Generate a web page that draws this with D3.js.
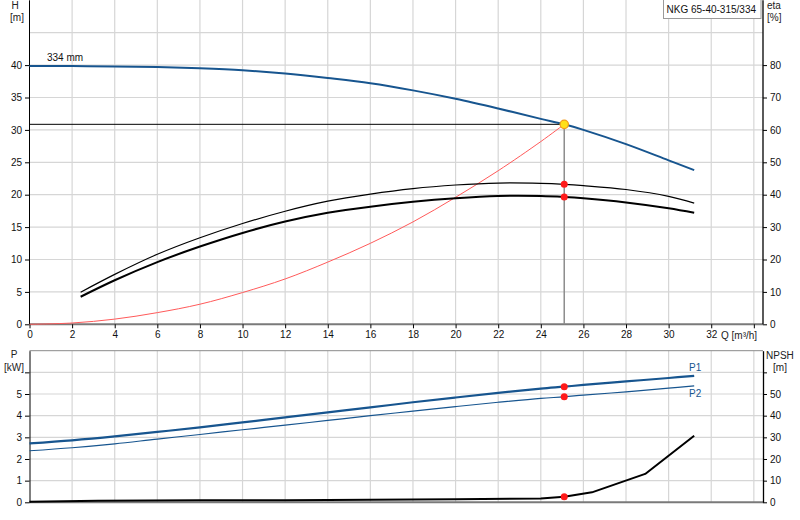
<!DOCTYPE html>
<html lang="en">
  <head>
    <meta charset="utf-8">
    <title>NKG 65-40-315/334</title>
    <script src="https://d3js.org/d3.v7.min.js"></script>
    <style>
     body { margin: 0; background: white; }
     svg { font-family: "Liberation Sans", Arial, sans-serif; font-size: 10px; }
     .grid line { stroke: #d6d6d6; stroke-width: 1.2px; }
     .axis text { fill: #111; font-size: 10px; }
     .axis line { stroke: #000; }
     .axis path { stroke: #000; }
     .lbl { fill: #222; font-size: 10px; }
    </style>
  </head>
  <body>
  <div id="chart"></div>
  <script>

  // ---- data ----
  // head curve (Q in m3/h, H in m)
  const qHead = [0, 2, 4, 6, 8, 10, 12, 14, 16, 18, 20, 22, 24, 25.1, 26, 28, 30, 31.2];
  const head  = [39.85, 39.85, 39.8, 39.7, 39.5, 39.2, 38.7, 38.0, 37.2, 36.1, 34.8, 33.3, 31.7, 30.86, 30.0, 27.8, 25.3, 23.8];

  // system curve (thin red)
  const qSys    = [0, 2, 4, 6, 8, 10, 12, 14, 16, 18, 20, 22, 24, 25.1];
  const sysHead = [0, 0.2, 0.8, 1.8, 3.1, 4.9, 7.0, 9.6, 12.5, 15.8, 19.6, 23.7, 28.2, 30.86];

  // efficiency curves [%]
  const qEta     = [2.4, 4, 6, 8, 10, 12, 14, 16, 18, 20, 22, 24, 25.1, 26, 28, 30, 31.2];
  const etaPump  = [9.9, 15.4, 21.6, 26.7, 31.1, 34.9, 38.0, 40.2, 41.9, 43.0, 43.6, 43.5, 43.2, 42.8, 41.6, 39.5, 37.4];
  const etaTotal = [8.5, 13.6, 19.2, 24.0, 28.2, 31.7, 34.4, 36.3, 37.8, 38.9, 39.6, 39.6, 39.3, 38.9, 37.6, 35.8, 34.4];

  // power curves [kW]
  const qPow = [0, 2, 4, 6, 8, 10, 12, 14, 16, 18, 20, 22, 24, 25.1, 26, 28, 30, 31.2];
  const p1   = [2.72, 2.86, 3.04, 3.25, 3.46, 3.69, 3.92, 4.15, 4.38, 4.62, 4.84, 5.05, 5.25, 5.34, 5.42, 5.58, 5.74, 5.84];
  const p2   = [2.38, 2.52, 2.70, 2.92, 3.13, 3.35, 3.56, 3.78, 4.00, 4.21, 4.42, 4.62, 4.80, 4.87, 4.95, 5.10, 5.27, 5.38];

  // NPSH [m]
  const qNpsh = [0, 3.2, 8, 12, 16, 20, 24, 25.1, 26.4, 28.9, 31.2];
  const npsh  = [0.2, 0.7, 0.9, 1.0, 1.2, 1.4, 1.8, 2.6, 4.6, 13.1, 30.7];

  // duty point
  const dutyQ = 25.1, dutyH = 30.86;
  const dutyEta = [43.2, 39.3];
  const dutyP = [5.34, 4.87];
  const dutyNpsh = 2.6;

  // ticks
  const qTicks = d3.range(0, 35, 2);
  const hTicks = [0, 5, 10, 15, 20, 25, 30, 35, 40];
  const etaTicks = [0, 10, 20, 30, 40, 50, 60, 70, 80];
  const pTicks = [0, 1, 2, 3, 4, 5, 6];
  const npshTicks = [0, 10, 20, 30, 40, 50, 60];

  const title = "NKG 65-40-315/334";
  const curveName = "334 mm";

  // ---- scales ----
  var x = d3.scaleLinear().domain([0, 34.43]).range([29.5, 763]);
  var yH = d3.scaleLinear().domain([0, 50]).range([324.3, 0.3]);
  var yEta = d3.scaleLinear().domain([0, 100]).range([324.3, 0.3]);
  var yP = d3.scaleLinear().domain([0, 7]).range([502.3, 350.7]);
  var yN = d3.scaleLinear().domain([0, 70]).range([502.3, 350.7]);

  var svg = d3.select("#chart").append("svg")
      .attr("width", 800)
      .attr("height", 520);

  var blue = "#17558f";

  // ---- grids ----
  var grid = svg.append("g").attr("class", "grid");
  grid.selectAll(".vt").data(qTicks.slice(1)).enter().append("line")
      .attr("x1", d => x(d)).attr("x2", d => x(d))
      .attr("y1", 0).attr("y2", yH(0));
  grid.selectAll(".vb").data(qTicks.slice(1)).enter().append("line")
      .attr("x1", d => x(d)).attr("x2", d => x(d))
      .attr("y1", yP(7)).attr("y2", yP(0));
  grid.selectAll(".ht").data([5, 10, 15, 20, 25, 30, 35, 40, 45]).enter().append("line")
      .attr("x1", x(0)).attr("x2", x.range()[1])
      .attr("y1", d => yH(d)).attr("y2", d => yH(d));
  grid.selectAll(".hb").data([1, 2, 3, 4, 5, 6]).enter().append("line")
      .attr("x1", x(0)).attr("x2", x.range()[1])
      .attr("y1", d => yP(d)).attr("y2", d => yP(d));

  // frame lines
  svg.append("line").attr("x1", x(0)).attr("x2", x.range()[1])
     .attr("y1", yP(7)).attr("y2", yP(7)).attr("stroke", "#8a8a8a");
  svg.append("line").attr("x1", x(0)).attr("x2", x.range()[1])
     .attr("y1", yH(0)).attr("y2", yH(0)).attr("stroke", "#7a7a7a").attr("stroke-width", 2);
  svg.append("line").attr("x1", x(0)).attr("x2", x.range()[1])
     .attr("y1", yP(0)).attr("y2", yP(0)).attr("stroke", "#7a7a7a").attr("stroke-width", 2);

  // ---- axes ----
  function noLabel(last) {
    return function(d) { return d >= last ? "" : d; };
  }

  svg.append("g").attr("class", "axis")
      .attr("transform", "translate(" + x(0) + ",0)")
      .call(d3.axisLeft(yH).tickValues(hTicks).tickSize(4.5).tickSizeOuter(0).tickPadding(3))
      .select(".domain").attr("d", "M0,0.3V" + yH(0));

  svg.append("g").attr("class", "axis")
      .attr("transform", "translate(" + x.range()[1] + ",0)")
      .call(d3.axisRight(yEta).tickValues(etaTicks).tickSize(4).tickSizeOuter(0).tickPadding(3))
      .select(".domain").attr("d", "M0,0.3V" + yH(0)).attr("stroke-width", 1.3);

  var xa = svg.append("g").attr("class", "axis")
      .attr("transform", "translate(0," + yH(0) + ")")
      .call(d3.axisBottom(x).tickValues(qTicks).tickSize(4).tickSizeOuter(0).tickPadding(3)
        .tickFormat(noLabel(34)));
  xa.select(".domain").remove();
  xa.selectAll("line").attr("stroke", "#333");

  svg.append("g").attr("class", "axis")
      .attr("transform", "translate(" + x(0) + ",0)")
      .call(d3.axisLeft(yP).tickValues(pTicks).tickSize(4.5).tickSizeOuter(0).tickPadding(3)
        .tickFormat(noLabel(6)));

  svg.append("g").attr("class", "axis")
      .attr("transform", "translate(" + x.range()[1] + ",0)")
      .call(d3.axisRight(yN).tickValues(npshTicks).tickSize(4).tickSizeOuter(0).tickPadding(3)
        .tickFormat(noLabel(60)))
      .select(".domain").attr("stroke-width", 1.3);

  // axis titles
  svg.append("text").attr("class", "lbl").attr("x", 721).attr("y", 338.5).text("Q [m³/h]");
  svg.append("text").attr("class", "lbl").attr("x", 15).attr("y", 9).attr("text-anchor", "middle").text("H");
  svg.append("text").attr("class", "lbl").attr("x", 17).attr("y", 21).attr("text-anchor", "middle").text("[m]");
  svg.append("text").attr("class", "lbl").attr("x", 767).attr("y", 9).text("eta");
  svg.append("text").attr("class", "lbl").attr("x", 767).attr("y", 20.5).text("[%]");
  svg.append("text").attr("class", "lbl").attr("x", 14).attr("y", 358).attr("text-anchor", "middle").text("P");
  svg.append("text").attr("class", "lbl").attr("x", 14).attr("y", 371).attr("text-anchor", "middle").text("[kW]");
  svg.append("text").attr("class", "lbl").attr("x", 766).attr("y", 359).text("NPSH");
  svg.append("text").attr("class", "lbl").attr("x", 780).attr("y", 371).attr("text-anchor", "middle").text("[m]");

  // ---- curves ----
  function pts(qs, vs) { return qs.map((q, i) => [q, vs[i]]); }
  function draw(data, yScale, color, width, curve) {
    svg.append("path")
      .datum(data)
      .attr("fill", "none")
      .attr("stroke", color)
      .attr("stroke-width", width)
      .attr("stroke-linejoin", "round")
      .attr("d", d3.line()
        .curve(curve || d3.curveCatmullRom.alpha(0.5))
        .x(d => x(d[0]))
        .y(d => yScale(d[1])));
  }

  // duty point guide lines
  svg.append("line").attr("x1", x(0)).attr("x2", x(dutyQ))
     .attr("y1", yH(dutyH)).attr("y2", yH(dutyH)).attr("stroke", "#000").attr("stroke-width", 1);
  svg.append("line").attr("x1", x(dutyQ)).attr("x2", x(dutyQ))
     .attr("y1", yH(dutyH)).attr("y2", yH(0)).attr("stroke", "#8c8c8c").attr("stroke-width", 1.5);

  draw(pts(qSys, sysHead), yH, "#ff5a5a", 1);
  draw(pts(qEta, etaPump), yEta, "#000", 1.2);
  draw(pts(qEta, etaTotal), yEta, "#000", 2);
  draw(pts(qHead, head), yH, blue, 2);

  draw(pts(qPow, p1), yP, blue, 2.2);
  draw(pts(qPow, p2), yP, blue, 1.2);
  draw(pts(qNpsh, npsh), yN, "#000", 2, d3.curveLinear);

  // duty point markers
  svg.selectAll(".etaDot").data(dutyEta).enter().append("circle")
     .attr("cx", x(dutyQ)).attr("cy", d => yEta(d)).attr("r", 3.5).attr("fill", "#ff1a1a");
  svg.selectAll(".pDot").data(dutyP).enter().append("circle")
     .attr("cx", x(dutyQ)).attr("cy", d => yP(d)).attr("r", 3.5).attr("fill", "#ff1a1a");
  svg.append("circle").attr("cx", x(dutyQ)).attr("cy", yN(dutyNpsh)).attr("r", 3.5).attr("fill", "#ff1a1a");
  svg.append("circle").attr("cx", x(dutyQ)).attr("cy", yH(dutyH)).attr("r", 4.2)
     .attr("fill", "#ffe01a").attr("stroke", "#f29a1a").attr("stroke-width", 1.2);

  // curve labels
  svg.append("text").attr("x", 47).attr("y", 60.5).attr("fill", "#111").text(curveName);
  svg.append("text").attr("x", 689).attr("y", 370.5).attr("fill", blue).text("P1");
  svg.append("text").attr("x", 689).attr("y", 396.5).attr("fill", blue).text("P2");

  // title box
  svg.append("rect").attr("x", 663.5).attr("y", -1).attr("width", 97.5).attr("height", 19.5)
     .attr("fill", "white").attr("stroke", "#9a9a9a");
  svg.append("text").attr("x", 666.5).attr("y", 12.5).attr("fill", "#111").text(title);

</script>
  </body>
</html>
